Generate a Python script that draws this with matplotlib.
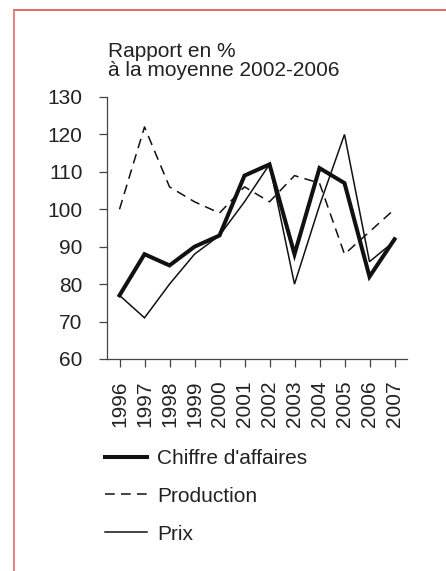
import matplotlib
matplotlib.use("Agg")
import matplotlib.pyplot as plt
from matplotlib.lines import Line2D

years = [1996, 1997, 1998, 1999, 2000, 2001, 2002, 2003, 2004, 2005, 2006, 2007]
chiffre = [77, 88, 85, 90, 93, 109, 112, 88, 111, 107, 82, 92]
production = [100, 122, 106, 102, 99, 106, 102, 109, 107, 88, 94, 100]
prix = [77, 71, 80, 88, 93, 102, 112, 80, 101, 120, 86, 91.5]
yticks = [60, 70, 80, 90, 100, 110, 120, 130]
title_lines = ["Rapport en %", "à la moyenne 2002-2006"]
labels = ["Chiffre d'affaires", "Production", "Prix"]

plt.rcParams['font.family'] = ['Liberation Sans', 'DejaVu Sans']
plt.rcParams['lines.scale_dashes'] = False

W, H = 446, 571
fig = plt.figure(figsize=(W / 100, H / 100), dpi=100)
fig.patch.set_facecolor('white')

ax = fig.add_axes([107 / W, 1 - 359 / H, 300 / W, 262 / H])
fs = 15

l1, = ax.plot(years, chiffre, color='#111111', lw=2.9, solid_joinstyle='miter')
l2, = ax.plot(years, production, color='#111111', lw=1.1, linestyle=(0, (7, 4.5)))
l3, = ax.plot(years, prix, color='#111111', lw=1.1, solid_joinstyle='miter')

ax.set_xlim(1995.5, 2007.5)
ax.set_ylim(60, 130)
ax.set_yticks(yticks)
ax.set_xticks(years)
ax.set_xticklabels([str(y) for y in years], rotation=90, fontsize=fs, color='#222222')
ax.set_yticklabels([str(v) for v in yticks], fontsize=fs, color='#222222')
ax.tick_params(axis='y', direction='out', length=5.5, width=0.9, color='#444444', pad=12)
ax.tick_params(axis='x', direction='out', length=5.5, width=0.9, color='#444444', pad=10)
for s in ['top', 'right']:
    ax.spines[s].set_visible(False)
for s in ['left', 'bottom']:
    ax.spines[s].set_color('#444444')
    ax.spines[s].set_linewidth(0.9)

fig.text(108 / W, 1 - 57 / H, title_lines[0], fontsize=fs, color='#222222', va='baseline', ha='left')
fig.text(108 / W, 1 - 76 / H, title_lines[1], fontsize=fs, color='#222222', va='baseline', ha='left')

leg = ax.legend([l1, l2, l3], labels, loc='upper left',
                bbox_to_anchor=(105 / W, 1 - 449 / H), bbox_transform=fig.transFigure,
                frameon=False, fontsize=fs, handlelength=2.0, handletextpad=0.5,
                labelspacing=0.9, borderpad=0, borderaxespad=0)
for t in leg.get_texts():
    t.set_color('#222222')

# red frame lines (decoration)
fig.add_artist(Line2D([14.5 / W, 1], [1 - 9.5 / H, 1 - 9.5 / H], transform=fig.transFigure,
                      color='#d9534f', lw=1.2))
fig.add_artist(Line2D([14.5 / W, 14.5 / W], [0, 1 - 9.5 / H], transform=fig.transFigure,
                      color='#e07070', lw=1.2))

fig.savefig('out.png', dpi=100, facecolor='white')
